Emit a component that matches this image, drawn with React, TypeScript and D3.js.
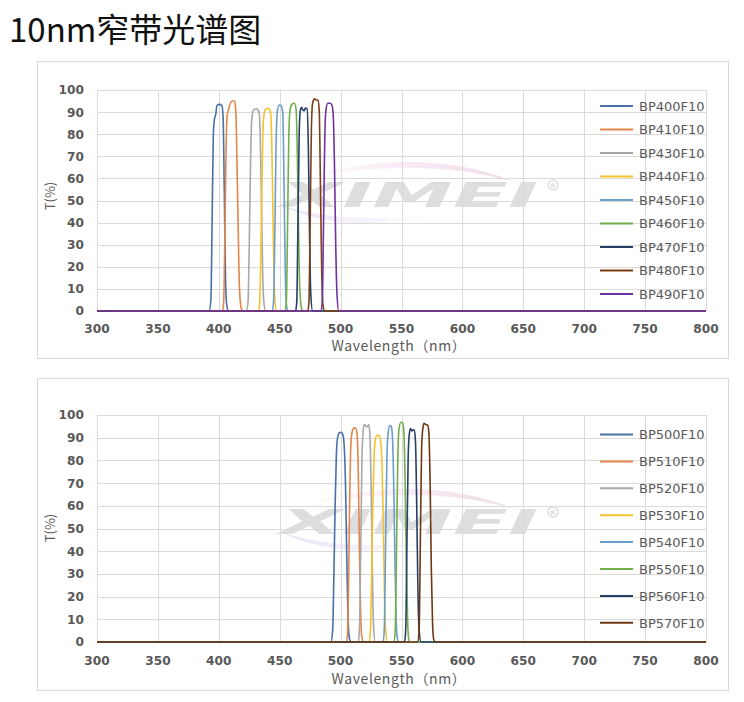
import React from 'react';
import * as d3 from 'd3';

type Pt = [number, number];

const TITLE = '10nm窄带光谱图';
const X_TITLE = 'Wavelength（nm）';
const Y_TITLE = 'T(%)';
const xTicks = [300, 350, 400, 450, 500, 550, 600, 650, 700, 750, 800];
const yTicks = [0, 10, 20, 30, 40, 50, 60, 70, 80, 90, 100];

// ---------- top chart ----------
const topNames = ['BP400F10', 'BP410F10', 'BP430F10', 'BP440F10', 'BP450F10', 'BP460F10', 'BP470F10', 'BP480F10', 'BP490F10'];
const topColors = ['#4A70A8', '#E5864A', '#A8A8A8', '#F5C22E', '#6A9ECB', '#72AE4C', '#253F66', '#7E3F14', '#7032A0'];

const bp400: Pt[] = [[300, 0], [392, 0], [393.5, 5], [394.5, 40], [395.5, 80], [396.5, 87], [397.5, 89], [398.5, 93], [400.5, 93.5], [402.5, 93], [403.5, 88], [404.5, 55], [405.5, 15], [406.5, 3], [408, 0], [800, 0]];
const bp410: Pt[] = [[300, 0], [403, 0], [404, 4], [405, 35], [406, 75], [407, 89], [408, 91], [409.5, 94], [411, 95], [413, 95], [414, 90], [415, 65], [416, 35], [417, 10], [418.5, 1], [420, 0], [800, 0]];
const bp430: Pt[] = [[300, 0], [422.5, 0], [424, 4], [425, 30], [426, 65], [427, 86], [428.5, 91], [431, 91.5], [433, 90], [434, 80], [435, 50], [436, 18], [437, 4], [438.5, 0], [800, 0]];
const bp440: Pt[] = [[300, 0], [432.5, 0], [433.5, 3], [434.5, 25], [435.5, 60], [436.5, 85], [438, 91], [440, 91.7], [442, 91], [443, 86], [444, 60], [445, 25], [446, 5], [447.5, 0], [800, 0]];
const bp450: Pt[] = [[300, 0], [444, 0], [445, 5], [446, 35], [447, 75], [448, 90], [449.5, 93.2], [451, 93], [452.5, 90], [453.5, 60], [454.5, 20], [455.5, 3], [457, 0], [800, 0]];
const bp460: Pt[] = [[300, 0], [454.5, 0], [455.5, 5], [456.5, 40], [457.5, 80], [458.5, 91], [460, 93.5], [462, 94], [463.5, 91], [464.5, 70], [465.5, 35], [466.5, 10], [468, 1], [469, 0], [800, 0]];
const bp470: Pt[] = [[300, 0], [463, 0], [464, 4], [465, 40], [466, 80], [467, 91], [468, 92.2], [469, 91], [470, 90.5], [471, 91.8], [472.5, 91.5], [473.5, 75], [474.5, 35], [475.5, 8], [477, 0], [800, 0]];
const bp480: Pt[] = [[300, 0], [473, 0], [474, 4], [475, 40], [476, 82], [477, 94], [478.5, 96], [480, 95.5], [481.5, 95.5], [482.5, 90], [483.5, 55], [484.5, 18], [485.5, 3], [487, 0], [800, 0]];
const bp490: Pt[] = [[300, 0], [484, 0], [485, 5], [486, 40], [487, 78], [488, 91], [489.5, 94], [491.5, 94], [493, 93], [494, 88], [495, 65], [496, 30], [497, 8], [498.5, 0], [800, 0]];
const topSeries = [bp400, bp410, bp430, bp440, bp450, bp460, bp470, bp480, bp490];

// ---------- bottom chart ----------
const botNames = ['BP500F10', 'BP510F10', 'BP520F10', 'BP530F10', 'BP540F10', 'BP550F10', 'BP560F10', 'BP570F10'];
const botColors = ['#4A70A8', '#E5864A', '#A8A8A8', '#F5C22E', '#6A9ECB', '#72AE4C', '#253F66', '#6E3812'];

const bp500: Pt[] = [[300, 0], [492, 0], [493.5, 5], [494.5, 30], [495.5, 60], [496.5, 82], [497.5, 90], [499, 92.2], [500.5, 92.4], [502, 91], [503, 86], [504, 70], [505, 40], [506, 12], [507.5, 1], [509, 0], [800, 0]];
const bp510: Pt[] = [[300, 0], [505, 0], [506, 8], [507, 45], [508, 80], [509, 91], [510.5, 94], [512, 94.4], [513.5, 92], [514.5, 75], [515.5, 40], [516.5, 12], [517.5, 2], [519, 0], [800, 0]];
const bp520: Pt[] = [[300, 0], [514.5, 0], [515.5, 6], [516.5, 40], [517.5, 80], [518.5, 93], [519.5, 95.8], [521, 95], [522, 94.8], [523, 95.8], [524, 92], [525, 70], [526, 35], [527, 8], [528.5, 0], [800, 0]];
const bp530: Pt[] = [[300, 0], [523.5, 0], [524.5, 5], [525.5, 30], [526.5, 62], [527.5, 82], [528.5, 89], [530, 91.2], [531.5, 91], [533, 88], [534, 78], [535, 55], [536, 22], [537, 5], [538.5, 0], [800, 0]];
const bp540: Pt[] = [[300, 0], [535, 0], [536, 8], [537, 45], [538, 80], [539, 92], [540.5, 95.3], [541.5, 95], [542.5, 91], [543.5, 72], [544.5, 40], [545.5, 12], [546.5, 2], [548, 0], [800, 0]];
const bp550: Pt[] = [[300, 0], [544, 0], [545, 8], [546, 45], [547, 82], [548, 94], [549.5, 96.8], [551, 96.5], [552, 92], [553, 70], [554, 35], [555, 10], [556, 1], [557, 0], [800, 0]];
const bp560: Pt[] = [[300, 0], [552.5, 0], [553.5, 6], [554.5, 45], [555.5, 82], [556.5, 92], [557.5, 94], [558.5, 93], [559.5, 93.4], [560.5, 93.5], [561.5, 88], [562.5, 60], [563.5, 22], [564.5, 5], [566, 0], [800, 0]];
const bp570: Pt[] = [[300, 0], [563.5, 0], [564.5, 6], [565.5, 45], [566.5, 85], [567.5, 94], [568.5, 96.3], [570, 95.8], [571.5, 95.5], [572.5, 92], [573.5, 70], [574.5, 32], [575.5, 8], [576.5, 1], [578, 0], [800, 0]];
const botSeries = [bp500, bp510, bp520, bp530, bp540, bp550, bp560, bp570];

const GRID = '#DADADA';
const TEXT = '#595959';
const SANS = '"DejaVu Sans", sans-serif';
const CJK = '"Noto Sans CJK SC", "Noto Sans", sans-serif';

type ChartProps = {
  names: string[];
  colors: string[];
  series: Pt[][];
  boxTop: number;
  boxBottom: number;
  plotTop: number;
  plotBottom: number;
  tickBaseline: number;
  titleBaseline: number;
  yTitleY: number;
  legendY0: number;
  legendStep: number;
  wmY: number;
  gid: string;
};

function Watermark({ cy, gid }: { cy: number; gid: string }) {
  const cx = 405;
  return (
    <g pointerEvents="none">
      <defs>
        <linearGradient id={gid + 'g1'} x1="0" x2="1" y1="0" y2="0">
          <stop offset="0" stopColor="#f4d8ea" stopOpacity="0.2" />
          <stop offset="1" stopColor="#eccde2" stopOpacity="0.95" />
        </linearGradient>
        <linearGradient id={gid + 'g2'} x1="0" x2="1" y1="0" y2="0">
          <stop offset="0" stopColor="#e3d8f3" stopOpacity="0.95" />
          <stop offset="1" stopColor="#efe4f6" stopOpacity="0.1" />
        </linearGradient>
      </defs>
      <path
        d={`M ${cx - 95},${cy - 19} Q ${cx + 20},${cy - 50} ${cx + 112},${cy - 12} Q ${cx + 30},${cy - 38} ${cx - 95},${cy - 19} Z`}
        fill={`url(#${gid}g1)`}
        opacity={0.8}
      />
      <path
        d={`M ${cx - 125},${cy + 10} Q ${cx - 60},${cy + 42} ${cx + 40},${cy + 18} Q ${cx - 60},${cy + 31} ${cx - 125},${cy + 10} Z`}
        fill={`url(#${gid}g2)`}
        opacity={0.8}
      />
      <text
        x={cx - 125}
        y={cy + 12}
        textLength={258}
        lengthAdjust="spacingAndGlyphs"
        fontFamily={SANS}
        fontWeight="bold"
        fontStyle="italic"
        fontSize={34}
        fill="#d9d9d9"
        opacity={0.85}
      >
        XIMEI
      </text>
      <circle cx={cx + 148} cy={cy - 10} r={5} fill="none" stroke="#dcdcdc" strokeWidth={1.4} />
      <text x={cx + 148} y={cy - 7.5} fontSize={6.5} textAnchor="middle" fill="#dcdcdc" fontFamily={SANS} fontWeight="bold">R</text>
    </g>
  );
}

function Chart(p: ChartProps) {
  const x = d3.scaleLinear().domain([300, 800]).range([97, 706]);
  const y = d3.scaleLinear().domain([0, 100]).range([p.plotBottom, p.plotTop]);
  const line = d3
    .line<Pt>()
    .x((d) => x(d[0]))
    .y((d) => y(d[1]))
    .curve(d3.curveMonotoneX);

  return (
    <g>
      <rect x={37.5} y={p.boxTop + 0.5} width={691} height={p.boxBottom - p.boxTop} fill="#fff" stroke="#D9D9D9" strokeWidth={1} />
      {yTicks.map((t) => (
        <line key={'h' + t} x1={97} x2={706} y1={Math.round(y(t)) + 0.5} y2={Math.round(y(t)) + 0.5} stroke={GRID} strokeWidth={1} />
      ))}
      {xTicks.map((t) => (
        <line key={'v' + t} x1={Math.round(x(t)) + 0.5} x2={Math.round(x(t)) + 0.5} y1={p.plotTop} y2={p.plotBottom} stroke={GRID} strokeWidth={1} />
      ))}
      <Watermark cy={p.wmY} gid={p.gid} />
      {p.series.map((s, i) => (
        <path key={p.names[i]} d={line(s) || ''} fill="none" stroke={p.colors[i]} strokeWidth={1.6} strokeLinejoin="round" />
      ))}
      {yTicks.map((t) => (
        <text key={'yl' + t} x={84} y={y(t) + 4.4} textAnchor="end" fontFamily={SANS} fontWeight="bold" fontSize={12.2} fill={TEXT}>
          {t}
        </text>
      ))}
      {xTicks.map((t) => (
        <text key={'xl' + t} x={x(t)} y={p.tickBaseline} textAnchor="middle" fontFamily={SANS} fontWeight="bold" fontSize={12.2} fill={TEXT}>
          {t}
        </text>
      ))}
      <text x={399} y={p.titleBaseline} textAnchor="middle" fontFamily={CJK} fontSize={14} letterSpacing={0.6} fill={TEXT}>
        {X_TITLE}
      </text>
      <text
        x={0}
        y={0}
        transform={`translate(55,${p.yTitleY}) rotate(-90)`}
        textAnchor="middle"
        fontFamily={CJK}
        fontSize={13}
        fill={TEXT}
      >
        {Y_TITLE}
      </text>
      {p.names.map((n, i) => {
        const ly = p.legendY0 + i * p.legendStep;
        return (
          <g key={'lg' + n}>
            <line x1={600} x2={633} y1={ly} y2={ly} stroke={p.colors[i]} strokeWidth={2} />
            <text x={639} y={ly + 4.7} fontFamily={SANS} fontSize={13} fill={TEXT}>
              {n}
            </text>
          </g>
        );
      })}
    </g>
  );
}

export default function App() {
  return (
    <div style={{ position: 'absolute', left: 0, top: 0 }}>
      <svg width={744} height={702} style={{ display: 'block' }}>
        <rect width={744} height={702} fill="#fff" />
        <text x={9} y={42} fontFamily={CJK} fontSize={33} fill="#111">
          {TITLE}
        </text>
        <Chart
          names={topNames}
          colors={topColors}
          series={topSeries}
          boxTop={61}
          boxBottom={358}
          plotTop={90}
          plotBottom={311}
          tickBaseline={333}
          titleBaseline={351}
          yTitleY={196}
          legendY0={106}
          legendStep={23.5}
          wmY={195}
          gid="a"
        />
        <Chart
          names={botNames}
          colors={botColors}
          series={botSeries}
          boxTop={378}
          boxBottom={690}
          plotTop={415}
          plotBottom={642}
          tickBaseline={665}
          titleBaseline={684}
          yTitleY={528}
          legendY0={434.5}
          legendStep={26.9}
          wmY={522}
          gid="b"
        />
      </svg>
    </div>
  );
}
